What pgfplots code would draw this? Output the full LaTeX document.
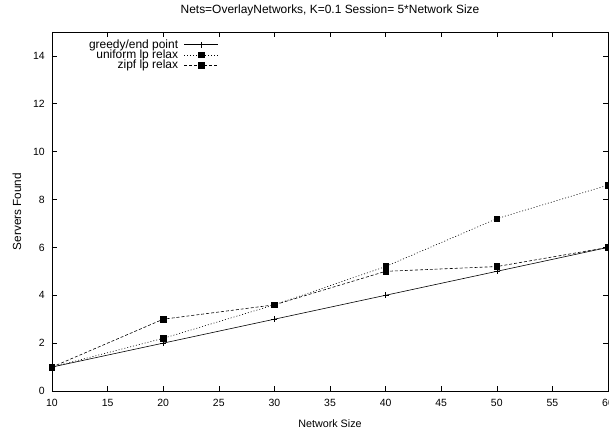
\documentclass[border=0pt]{standalone}
\usepackage{fontspec}
\setmainfont{Liberation Sans}
\usepackage{pgfplots}
\pgfplotsset{compat=1.18}
\usetikzlibrary{calc}

\begin{document}
\fontsize{10.5}{12}\selectfont
\begin{tikzpicture}
\begin{axis}[
  name=ax,
  scale only axis,
  width=556bp, height=359bp,
  xmin=10, xmax=60,
  ymin=0, ymax=15,
  xtick={10,15,...,60},
  ytick={0,2,...,14},
  tick align=inside,
  major tick length=5bp,
  axis line style={line width=0.9pt},
  tick style={line width=0.6pt, black},
  /pgf/number format/assume math mode=true,
  tick label style={font=\fontsize{10.5}{12}\selectfont},
  xticklabel style={anchor=base, yshift=-15bp},
  yticklabel style={anchor=east, inner sep=0pt, xshift=-7bp},
  title={Nets=OverlayNetworks, K=0.1 Session= 5*Network Size},
  title style={at={(axis description cs:0.5,1)}, anchor=base, yshift=13bp,
    font=\fontsize{12}{14}\selectfont},
  xlabel={Network Size},
  xlabel style={at={(axis description cs:0.5,0)}, anchor=base, yshift=-36bp,
    font=\fontsize{10.8}{12}\selectfont},
  ylabel={Servers Found},
  ylabel style={at={(axis description cs:0,0.5)}, anchor=center,
    yshift=35bp, font=\fontsize{11.8}{13}\selectfont},
  legend style={draw=none, fill=none, at={(0.302,0.982)}, anchor=north east,
    font=\fontsize{12}{13}\selectfont, row sep=0pt, column sep=6bp,
    inner sep=1pt, nodes={inner sep=0pt}},
  legend cell align=right,
  legend plot pos=right,
  legend image code/.code={\draw[mark repeat=2,mark phase=2,#1] plot coordinates {(0cm,0cm)(0.6cm,0cm)(1.2cm,0cm)};},
]
\addplot[black, line width=0.6pt, mark=+, mark size=3pt] coordinates
  {(10,1)(20,2)(30,3)(40,4)(50,5)(60,6)};
\addlegendentry{greedy/end point}
\addplot[black, line width=0.6pt, dash pattern=on 1pt off 2pt, mark=square*, mark size=2.8pt, mark options={solid}] coordinates
  {(10,1)(20,2.2)(30,3.6)(40,5.2)(50,7.2)(60,8.6)};
\addlegendentry{uniform lp relax}
\addplot[black, line width=0.6pt, dash pattern=on 3pt off 2pt, mark=square*, mark size=2.8pt, mark options={solid}] coordinates
  {(10,1)(20,3)(30,3.6)(40,5)(50,5.2)(60,6)};
\addlegendentry{zipf lp relax}
\end{axis}
\pgfresetboundingbox
\path ($(ax.south west)+(-52bp,-37bp)$) rectangle ($(ax.south west)+(557bp,391bp)$);
\end{tikzpicture}
\end{document}
